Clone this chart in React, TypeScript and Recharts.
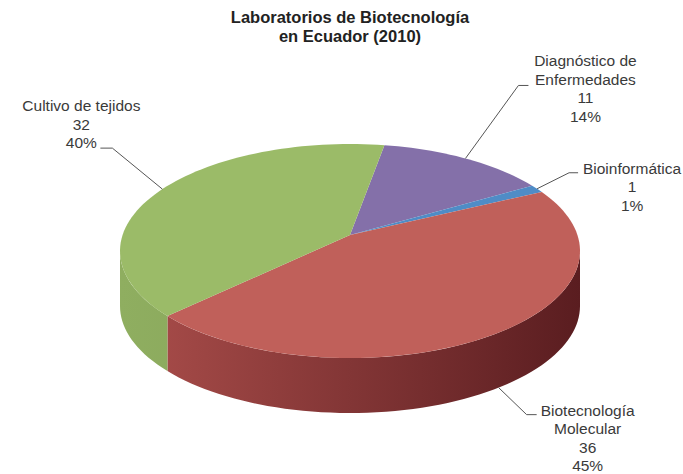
import type { ReactElement } from "react";
import { PieChart, Pie } from "recharts";

// data, in the order Excel draws it clockwise from the top
const CATEGORIES = [
  "Diagnóstico de Enfermedades",
  "Bioinformática",
  "Biotecnología Molecular",
  "Cultivo de tejidos",
];
const COUNTS = [11, 1, 36, 32];
const LABEL_LINES = [
  ["Diagnóstico de", "Enfermedades"],
  ["Bioinformática"],
  ["Biotecnología", "Molecular"],
  ["Cultivo de tejidos"],
];

const TOP_COLORS = ["#8470A9", "#4F8CC6", "#C0605A", "#9BBB68"];
const SIDE_LIGHT = ["#7a659c", "#4a80b8", "#ab4e4b", "#8fae60"];
const SIDE_DARK = ["#4e3f66", "#2f5278", "#5a1d20", "#7a9650"];

// where each label sits, relative to the point where its leader touches the pie
const LABEL_LAYOUT = [
  { ex: 53, ey: -73, hx: 10, tx: 120, ty: -92 },
  { ex: 32, ey: -16, hx: 9, tx: 95, ty: -15 },
  { ex: 28, ey: 27, hx: 10, tx: 89, ty: 28 },
  { ex: -50, ey: -41, hx: -12, tx: -81, ty: -78 },
];

const FONT = "'Liberation Sans', Arial, sans-serif";
const TILT = 107 / 230; // vertical squash of the top face
const DEPTH = 55;
const APEX_LIFT = 16; // perspective: the centre sits above the middle of the ellipse

type Pt = [number, number];

// point on the rim for a pie angle, with a simple perspective so the front looks bigger
function project(cx: number, cy: number, rx: number, ry: number, deg: number, dy = 0): Pt {
  const t = (deg * Math.PI) / 180;
  const c = APEX_LIFT / ry;
  const k = rx * Math.sqrt(1 - c * c);
  const d = 1 + c * Math.sin(t);
  return [cx + (k * Math.cos(t)) / d, cy - (ry * Math.sin(t) + APEX_LIFT) / d + dy];
}

function arc(cx: number, cy: number, rx: number, ry: number, from: number, to: number, dy = 0): Pt[] {
  const n = Math.max(2, Math.ceil(Math.abs(to - from) / 2));
  const pts: Pt[] = [];
  for (let i = 0; i <= n; i++) {
    pts.push(project(cx, cy, rx, ry, from + ((to - from) * i) / n, dy));
  }
  return pts;
}

const toPath = (pts: Pt[]) =>
  pts.map((p, i) => `${i === 0 ? "M" : "L"}${p[0].toFixed(2)},${p[1].toFixed(2)}`).join(" ") + " Z";

function renderSlice(props: any): ReactElement {
  const { cx, cy, outerRadius, startAngle, endAngle, index } = props;
  const rx = outerRadius;
  const ry = outerRadius * TILT;
  const lo = Math.min(startAngle, endAngle);
  const hi = Math.max(startAngle, endAngle);
  const gid = `side-grad-${index}`;
  // rim is seen from the front between the two silhouette points
  const edge = (Math.asin(APEX_LIFT / ry) * 180) / Math.PI;

  const sides: string[] = [];
  for (let k = -2; k <= 2; k++) {
    const a = Math.max(lo, -180 + edge + 360 * k);
    const b = Math.min(hi, -edge + 360 * k);
    if (b > a) {
      const top = arc(cx, cy, rx, ry, a, b);
      const bottom = arc(cx, cy, rx, ry, b, a, DEPTH);
      sides.push(toPath([...top, ...bottom]));
    }
  }

  const face = toPath([[cx, cy - APEX_LIFT], ...arc(cx, cy, rx, ry, startAngle, endAngle)]);

  return (
    <g>
      <defs>
        <linearGradient id={gid} gradientUnits="userSpaceOnUse" x1={cx - rx} y1={0} x2={cx + rx} y2={0}>
          <stop offset="0%" stopColor={SIDE_LIGHT[index]} />
          <stop offset="100%" stopColor={SIDE_DARK[index]} />
        </linearGradient>
      </defs>
      {sides.map((d, i) => (
        <path key={i} d={d} fill={`url(#${gid})`} stroke="none" />
      ))}
      <path d={face} fill={TOP_COLORS[index]} stroke="none" />
    </g>
  );
}

function renderLabel(props: any): ReactElement {
  const { cx, cy, outerRadius, midAngle, index, value, percent } = props;
  const rx = outerRadius;
  const ry = outerRadius * TILT;
  const front = Math.sin((midAngle * Math.PI) / 180) < -APEX_LIFT / ry;
  const [ax, ay] = project(cx, cy, rx, ry, midAngle, front ? DEPTH : 0);
  const lay = LABEL_LAYOUT[index];
  const ex = ax + lay.ex;
  const ey = ay + lay.ey;
  const lines = [...LABEL_LINES[index], String(value), `${Math.round(percent * 100)}%`];

  return (
    <g>
      <path
        d={`M${ax},${ay} L${ex},${ey} L${ex + lay.hx},${ey}`}
        fill="none"
        stroke="#555"
        strokeWidth={1}
      />
      {lines.map((ln, i) => (
        <text
          key={i}
          x={ax + lay.tx}
          y={ay + lay.ty + i * 18.5}
          textAnchor="middle"
          fontFamily={FONT}
          fontSize={15.5}
          fill="#3a3a3a"
        >
          {ln}
        </text>
      ))}
    </g>
  );
}

export default function App() {
  const data = CATEGORIES.map((name, i) => ({ name, value: COUNTS[i], fill: TOP_COLORS[i] }));

  return (
    <div style={{ position: "relative", width: 683, height: 474, background: "#fff" }}>
      <style>{"body{margin:0}"}</style>
      <PieChart width={683} height={474}>
        <Pie
          data={data}
          dataKey="value"
          nameKey="name"
          cx={345}
          cy={246}
          outerRadius={230}
          startAngle={80}
          endAngle={-280}
          stroke="none"
          shape={renderSlice}
          inactiveShape={renderSlice}
          activeShape={renderSlice}
          label={renderLabel}
          labelLine={false}
          isAnimationActive={false}
        />
      </PieChart>
      <div
        style={{
          position: "absolute",
          top: 8,
          left: 0,
          width: 700,
          textAlign: "center",
          fontFamily: FONT,
          fontWeight: "bold",
          fontSize: 16.5,
          lineHeight: "19px",
          color: "#222",
        }}
      >
        Laboratorios de Biotecnología
        <br />
        en Ecuador (2010)
      </div>
    </div>
  );
}
